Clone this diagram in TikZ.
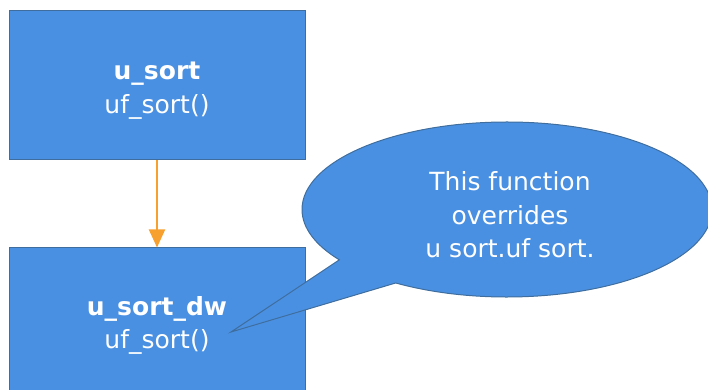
\documentclass[tikz,border=0pt]{standalone}
\usepackage{fontspec}
\setmainfont{DejaVu Sans}
\usetikzlibrary{arrows.meta,shapes.callouts}
\definecolor{boxblue}{HTML}{4A90E2}
\definecolor{boxedge}{HTML}{3F6E9E}
\definecolor{arroworange}{HTML}{F7A030}
\begin{document}
\begin{tikzpicture}[x=1pt,y=1pt,
  txt/.style={font=\fontsize{25}{33.5}\selectfont, text=white, align=center},
  blockbox/.style={draw=boxedge, line width=1pt, fill=boxblue, minimum width=296pt, minimum height=149pt, inner sep=0pt},
  flow/.style={draw=arroworange, line width=2pt, -{Triangle[width=16pt,length=18pt]}},
  bubble/.style={ellipse callout, draw=boxedge, line width=1pt, fill=boxblue, minimum width=410pt, minimum height=175pt, inner sep=0pt, callout pointer arc=22}
]
\useasboundingbox (0,0) rectangle (708,390);
\node[blockbox, label={[txt, yshift=-5pt]center:{\textbf{u\_sort}\\uf\_sort()}}] (usort) at (157,304.5) {};
\node[blockbox, minimum height=180pt, label={[txt, yshift=12.5pt]center:{\textbf{u\_sort\_dw}\\uf\_sort()}}] (usortdw) at (157,52) {};
\coordinate (tip) at (231,58);
\node[bubble, callout absolute pointer={(tip)}] (note) at (507,180.5) {};
\node[txt] (notetext) at (510,175) {This function\\overrides\\u sort.uf sort.};
\draw[flow] (usort.south) -- (usortdw.north);
\end{tikzpicture}
\end{document}
